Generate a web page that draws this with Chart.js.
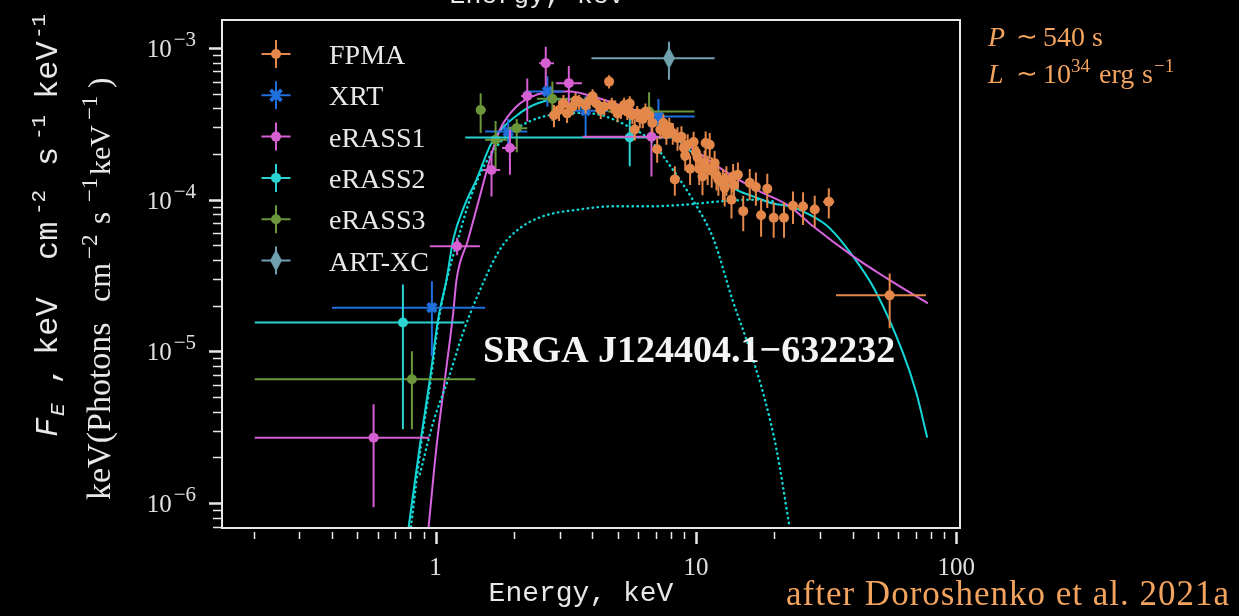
<!DOCTYPE html>
<html>
<head>
<meta charset="utf-8">
<script src="https://cdn.jsdelivr.net/npm/chart.js@4.4.1/dist/chart.umd.min.js"></script>
<style>
  html, body { margin: 0; background: #000; }
  canvas { display: block; }
</style>
</head>
<body>
<canvas id="spec" width="1239" height="616"></canvas>
<script>
// spectrum of SRGA J124404.1-632232
const SERIF = "'Liberation Serif', 'Times New Roman', serif";
const MONO = "'Liberation Mono', 'Courier New', monospace";
const FG = "#e8e8e8";
const ORANGE_TXT = "#f2a35e";

// FPMA
const fpmaE = [2.85, 2.98, 3.1, 3.2, 3.36, 3.45, 3.56, 3.77, 3.9, 4.01, 4.15, 4.31, 4.45, 4.64, 4.75, 4.9, 5.0, 5.15, 5.3, 5.45, 5.57, 5.7, 5.82, 5.95, 6.09, 6.25, 6.4, 6.63, 6.8, 7.1, 7.3, 7.5, 7.7, 7.9, 8.15, 8.3, 8.5, 8.8, 9.0, 9.1, 9.3, 9.5, 9.8, 10.0, 10.15, 10.3, 10.6, 10.8, 10.9, 11.1, 11.3, 11.5, 11.8, 12.0, 12.2, 12.7, 12.9, 13.1, 13.7, 13.9, 14.0, 14.5, 15.2, 16.1, 17.0, 17.8, 18.8, 19.9, 21.8, 23.6, 25.8, 28.6, 32.4, 55.5];
const fpmaF = [3.6e-4, 3.9e-4, 4.3e-4, 3.7e-4, 4.1e-4, 4.5e-4, 4.4e-4, 4.2e-4, 4.5e-4, 4.8e-4, 4.3e-4, 3.9e-4, 4.1e-4, 6.0e-4, 4.2e-4, 4.0e-4, 3.7e-4, 3.9e-4, 4.2e-4, 3.8e-4, 4.3e-4, 3.6e-4, 2.9e-4, 3.7e-4, 3.45e-4, 3.4e-4, 3.8e-4, 3.6e-4, 3.2e-4, 2.15e-4, 2.9e-4, 3.2e-4, 2.7e-4, 3.0e-4, 2.75e-4, 1.36e-4, 2.55e-4, 2.6e-4, 2.2e-4, 1.95e-4, 2.3e-4, 1.6e-4, 2.4e-4, 2.05e-4, 1.9e-4, 1.6e-4, 1.42e-4, 1.75e-4, 2.36e-4, 1.6e-4, 2.3e-4, 1.55e-4, 1.74e-4, 1.45e-4, 1.36e-4, 1.29e-4, 1.2e-4, 1.36e-4, 1.0e-4, 1.42e-4, 1.25e-4, 1.46e-4, 8.4e-5, 1.29e-4, 1.21e-4, 7.9e-5, 1.18e-4, 7.6e-5, 7.6e-5, 9.1e-5, 9.0e-5, 8.6e-5, 9.7e-5, 2.34e-5];
const fpmaDF = [6e-5, 6e-5, 6e-5, 5e-5, 5e-5, 5.5e-5, 5e-5, 5e-5, 5.5e-5, 5.5e-5, 5e-5, 5e-5, 5e-5, 6e-5, 5e-5, 5e-5, 4.5e-5, 5e-5, 5e-5, 4.5e-5, 5e-5, 4.5e-5, 4.5e-5, 4.5e-5, 5e-5, 4.5e-5, 5e-5, 5e-5, 4.5e-5, 4e-5, 4e-5, 4.5e-5, 4e-5, 4.5e-5, 4.5e-5, 3e-5, 4.5e-5, 4.5e-5, 4e-5, 4e-5, 4e-5, 3.5e-5, 4e-5, 4e-5, 3.5e-5, 3.5e-5, 3.5e-5, 3.5e-5, 4.5e-5, 3.5e-5, 4.5e-5, 3.5e-5, 3.5e-5, 3e-5, 3e-5, 3e-5, 3e-5, 3e-5, 2.5e-5, 3e-5, 3e-5, 3e-5, 2.2e-5, 3e-5, 3e-5, 2.2e-5, 3e-5, 2e-5, 2e-5, 2.2e-5, 2.2e-5, 2e-5, 2.2e-5, 9.2e-6];
const fpmaDE = [0.07, 0.07, 0.07, 0.07, 0.08, 0.08, 0.08, 0.08, 0.09, 0.09, 0.09, 0.1, 0.1, 0.1, 0.1, 0.1, 0.1, 0.11, 0.11, 0.11, 0.11, 0.12, 0.12, 0.12, 0.12, 0.13, 0.13, 0.13, 0.14, 0.14, 0.15, 0.15, 0.16, 0.16, 0.16, 0.17, 0.17, 0.18, 0.18, 0.18, 0.19, 0.19, 0.2, 0.2, 0.2, 0.21, 0.22, 0.22, 0.22, 0.23, 0.23, 0.24, 0.25, 0.25, 0.26, 0.28, 0.28, 0.3, 0.32, 0.33, 0.33, 0.36, 0.4, 0.45, 0.5, 0.55, 0.6, 0.7, 0.8, 0.9, 1.0, 1.2, 1.6, 21];

// XRT
const xrtE = [0.968, 1.90, 2.69, 3.77, 7.18];
const xrtF = [1.94e-5, 2.81e-4, 5.16e-4, 3.86e-4, 3.53e-4];
const xrtElo = [0.40, 1.55, 2.2, 3.1, 5.5];
const xrtEhi = [1.55, 2.25, 3.1, 4.6, 9.9];
const xrtFlo = [9.3e-6, 2.3e-4, 4.1e-4, 2.6e-4, 2.9e-4];
const xrtFhi = [2.9e-5, 3.4e-4, 6.5e-4, 4.8e-4, 4.6e-4];

// eRASS1
const e1E = [0.578, 1.21, 1.64, 1.93, 2.25, 2.65, 3.25, 6.75];
const e1F = [2.7e-6, 4.93e-5, 1.57e-4, 2.19e-4, 4.83e-4, 7.94e-4, 5.86e-4, 2.6e-4];
const e1Elo = [0.202, 0.95, 1.52, 1.8, 2.13, 2.5, 2.9, 3.67];
const e1Ehi = [0.945, 1.48, 1.77, 2.05, 2.4, 2.85, 3.65, 8.6];
const e1Flo = [9.4e-7, 4.3e-5, 1.05e-4, 1.46e-4, 3.27e-4, 5.56e-4, 4.1e-4, 1.42e-4];
const e1Fhi = [4.48e-6, 5.6e-5, 2.1e-4, 2.9e-4, 6.3e-4, 1.02e-3, 7.6e-4, 3.3e-4];

// eRASS2
const e2E = [0.749, 5.57];
const e2F = [1.55e-5, 2.57e-4];
const e2Elo = [0.202, 1.30];
const e2Ehi = [1.29, 8.56];
const e2Flo = [3.07e-6, 1.66e-4];
const e2Fhi = [2.76e-5, 3.4e-4];

// eRASS3
const e3E = [0.811, 1.49, 1.70, 2.05, 2.81, 6.61];
const e3F = [6.55e-6, 3.9e-4, 2.48e-4, 2.96e-4, 4.62e-4, 3.81e-4];
const e3Elo = [0.202, 1.43, 1.55, 1.9, 2.45, 4.6];
const e3Ehi = [1.42, 1.56, 1.88, 2.25, 3.3, 9.87];
const e3Flo = [3.07e-6, 2.75e-4, 1.6e-4, 2.05e-4, 3.3e-4, 3.2e-4];
const e3Fhi = [1.0e-5, 5.03e-4, 3.3e-4, 3.4e-4, 6.0e-4, 5.1e-4];

// ART-XC
const artE = [7.88];
const artF = [8.56e-4];
const artElo = [3.97];
const artEhi = [11.8];
const artFlo = [6.16e-4];
const artFhi = [1.1e-3];

// model curves
const totE = [0.788, 0.870, 0.951, 1.023, 1.102, 1.169, 1.296, 1.437, 1.641, 2.107, 2.59, 3.18, 4.03, 5.50, 6.65, 9.12, 10.0, 11.8, 13.7, 16.6, 19.8, 22.9, 27.3, 32.6, 40.1, 48.6, 62.4, 70.2, 77.4];
const totF = [6.95e-7, 2.38e-6, 6.55e-6, 1.63e-5, 2.98e-5, 5.46e-5, 9.27e-5, 1.36e-4, 2.36e-4, 3.72e-4, 4.44e-4, 4.6e-4, 4.44e-4, 3.91e-4, 3.36e-4, 2.25e-4, 1.93e-4, 1.53e-4, 1.21e-4, 1.05e-4, 9.42e-5, 9.04e-5, 7.96e-5, 6.51e-5, 4.24e-5, 2.56e-5, 9.8e-6, 5.35e-6, 2.7e-6];
const pwlE = [0.940, 1.009, 1.086, 1.169, 1.204, 1.334, 1.479, 1.616, 1.766, 2.046, 2.44, 2.83, 3.28, 4.03, 4.84, 6.65, 9.12, 12.7, 17.1, 22.9, 28.2, 40.1, 53.8, 77.8];
const pwlF = [6.95e-7, 2.38e-6, 6.55e-6, 1.8e-5, 2.98e-5, 5.46e-5, 1.05e-4, 1.83e-4, 2.89e-4, 4.11e-4, 4.91e-4, 5.16e-4, 5.16e-4, 4.78e-4, 4.33e-4, 3.53e-4, 2.36e-4, 1.57e-4, 1.16e-4, 9.04e-5, 6.67e-5, 4.24e-5, 3.05e-5, 2.07e-5];
const bbE = [0.804, 0.878, 0.959, 1.030, 1.105, 1.218, 1.354, 1.546, 1.766, 2.07, 2.58, 3.56, 4.29, 5.54, 6.65, 8.0, 9.72, 11.7, 13.8, 16.1, 18.4, 20.4, 22.9];
const bbF = [6.95e-7, 2.37e-6, 6.55e-6, 1.63e-5, 2.98e-5, 5.46e-5, 1.0e-4, 1.7e-4, 2.37e-4, 2.98e-4, 3.52e-4, 3.73e-4, 3.62e-4, 3.02e-4, 2.48e-4, 1.65e-4, 1.0e-4, 5.46e-5, 2.2e-5, 1.03e-5, 4.83e-6, 2.26e-6, 6.95e-7];
const compE = [0.870, 0.979, 1.118, 1.276, 1.44, 1.766, 2.075, 2.58, 3.54, 4.84, 6.65, 9.12, 12.5, 17.1, 20.2];
const compF = [1.55e-6, 3.4e-6, 6.55e-6, 1.33e-5, 2.26e-5, 4.69e-5, 6.35e-5, 7.76e-5, 8.6e-5, 9.04e-5, 9.04e-5, 9.27e-5, 9.75e-5, 1.0e-4, 9.71e-5];

// ticks
const xTickValues = [1, 10, 100];
const xTickLabels = ["1", "10", "100"];
const yTickValues = [1e-6, 1e-5, 1e-4, 1e-3];
const yTickExps = ["\u22126", "\u22125", "\u22124", "\u22123"];

const legendLabels = ["FPMA", "XRT", "eRASS1", "eRASS2", "eRASS3", "ART-XC"];

const colors = {
  fpma: "#e3884a",
  xrt: "#1f70dd",
  e1: "#d65fd2",
  e2: "#2bd2d2",
  e3: "#6b963a",
  art: "#6fa0ae",
  cyan: "#14d6d6",
  magenta: "#d864e0"
};

function pts(xs, ys) {
  return xs.map((v, i) => ({ x: v, y: ys[i] }));
}

// thin diamond used for ART-XC
function thinDiamond(color) {
  const c = document.createElement("canvas");
  c.width = 14; c.height = 24;
  const g = c.getContext("2d");
  g.fillStyle = color;
  g.beginPath();
  g.moveTo(7, 1); g.lineTo(13, 12); g.lineTo(7, 23); g.lineTo(1, 12);
  g.closePath(); g.fill();
  return c;
}
const artMarker = thinDiamond(colors.art);

function pointSet(label, xs, ys, err, color, style, r) {
  return {
    label: label,
    data: pts(xs, ys),
    err: err,
    borderColor: color,
    backgroundColor: color,
    pointStyle: style,
    pointRadius: r,
    pointBorderWidth: style === "crossRot" ? 4 : 0,
    showLine: false,
    order: 1
  };
}

function modelSet(xs, ys, color, dotted) {
  return {
    data: pts(xs, ys),
    borderColor: color,
    borderWidth: dotted ? 2.4 : 2,
    borderDash: dotted ? [0.5, 4.5] : [],
    borderCapStyle: dotted ? "round" : "butt",
    showLine: true,
    pointRadius: 0,
    cubicInterpolationMode: "monotone",
    fill: false,
    order: 5
  };
}

const datasets = [
  modelSet(compE, compF, colors.cyan, true),
  modelSet(bbE, bbF, colors.cyan, true),
  modelSet(pwlE, pwlF, colors.magenta, false),
  modelSet(totE, totF, colors.cyan, false),
  pointSet("FPMA", fpmaE, fpmaF, {
    xlo: fpmaE.map((v, i) => v - fpmaDE[i]), xhi: fpmaE.map((v, i) => v + fpmaDE[i]),
    ylo: fpmaF.map((v, i) => v - fpmaDF[i]), yhi: fpmaF.map((v, i) => v + fpmaDF[i])
  }, colors.fpma, "circle", 5),
  pointSet("eRASS1", e1E, e1F, { xlo: e1Elo, xhi: e1Ehi, ylo: e1Flo, yhi: e1Fhi }, colors.e1, "circle", 5),
  pointSet("eRASS2", e2E, e2F, { xlo: e2Elo, xhi: e2Ehi, ylo: e2Flo, yhi: e2Fhi }, colors.e2, "circle", 5),
  pointSet("eRASS3", e3E, e3F, { xlo: e3Elo, xhi: e3Ehi, ylo: e3Flo, yhi: e3Fhi }, colors.e3, "circle", 5),
  pointSet("XRT", xrtE, xrtF, { xlo: xrtElo, xhi: xrtEhi, ylo: xrtFlo, yhi: xrtFhi }, colors.xrt, "crossRot", 6),
  pointSet("ART-XC", artE, artF, { xlo: artElo, xhi: artEhi, ylo: artFlo, yhi: artFhi }, colors.art, artMarker, 7)
];

const bgPlugin = {
  id: "bg",
  beforeDraw(chart) {
    const ctx = chart.ctx;
    ctx.save();
    ctx.fillStyle = "#000";
    ctx.fillRect(0, 0, chart.width, chart.height);
    ctx.restore();
  }
};

// error bars under each point set
const errorBars = {
  id: "errorBars",
  beforeDatasetDraw(chart, args) {
    const ds = chart.data.datasets[args.index];
    if (!ds.err) return;
    const { ctx, chartArea: a } = chart;
    const x = chart.scales.x, y = chart.scales.y;
    ctx.save();
    ctx.beginPath();
    ctx.rect(a.left, a.top, a.right - a.left, a.bottom - a.top);
    ctx.clip();
    ctx.strokeStyle = ds.borderColor;
    ctx.lineWidth = 2;
    ds.data.forEach((p, i) => {
      const px = x.getPixelForValue(p.x);
      const py = y.getPixelForValue(p.y);
      ctx.beginPath();
      ctx.moveTo(x.getPixelForValue(ds.err.xlo[i]), py);
      ctx.lineTo(x.getPixelForValue(ds.err.xhi[i]), py);
      ctx.moveTo(px, y.getPixelForValue(ds.err.ylo[i]));
      ctx.lineTo(px, y.getPixelForValue(ds.err.yhi[i]));
      ctx.stroke();
    });
    ctx.restore();
  }
};

// pieces of text along a baseline; "at" places a piece at a fixed offset
function richText(ctx, parts, x, y) {
  let cx = x;
  parts.forEach(p => {
    ctx.font = p.font;
    if (p.at !== undefined) cx = x + p.at;
    cx += p.pre || 0;
    ctx.fillText(p.t, cx, y + (p.dy || 0));
    cx += ctx.measureText(p.t).width;
  });
  return cx;
}

function richWidth(ctx, parts) {
  let w = 0;
  parts.forEach(p => { ctx.font = p.font; w += (p.pre || 0) + ctx.measureText(p.t).width; });
  return w;
}

// frame, log ticks, tick labels
const axesPlugin = {
  id: "axesFrame",
  afterDatasetsDraw(chart) {
    const { ctx, chartArea: a } = chart;
    const x = chart.scales.x, y = chart.scales.y;
    ctx.save();
    ctx.strokeStyle = FG;
    ctx.fillStyle = FG;
    ctx.lineWidth = 2;
    ctx.strokeRect(a.left, a.top, a.right - a.left, a.bottom - a.top);

    // x ticks below the frame
    for (let d = 0.1; d <= 100; d *= 10) {
      for (let m = 1; m <= 9; m++) {
        const v = d * m;
        if (v < x.min || v > x.max) continue;
        const px = Math.round(x.getPixelForValue(v)) + 0.5;
        const major = m === 1;
        ctx.lineWidth = major ? 2.5 : 1.5;
        ctx.beginPath();
        ctx.moveTo(px, a.bottom + 4);
        ctx.lineTo(px, a.bottom + (major ? 16 : 11));
        ctx.stroke();
      }
    }
    // y ticks left of the frame
    for (let d = 1e-7; d <= 1e-3 * 1.001; d *= 10) {
      for (let m = 1; m <= 9; m++) {
        const v = d * m;
        if (v < y.min || v > y.max) continue;
        const py = Math.round(y.getPixelForValue(v)) + 0.5;
        const major = m === 1;
        ctx.lineWidth = major ? 2.5 : 1.5;
        ctx.beginPath();
        ctx.moveTo(a.left - 1, py);
        ctx.lineTo(a.left - (major ? 13 : 9), py);
        ctx.stroke();
      }
    }

    ctx.fillStyle = "#e0e0e0";
    ctx.textBaseline = "alphabetic";
    ctx.textAlign = "center";
    ctx.font = "25px " + SERIF;
    xTickValues.forEach((v, i) => {
      ctx.fillText(xTickLabels[i], x.getPixelForValue(v), 575);
    });
    ctx.textAlign = "left";
    yTickValues.forEach((v, i) => {
      const py = y.getPixelForValue(v);
      const parts = [
        { t: "10", font: "25px " + SERIF, dy: 9 },
        { t: yTickExps[i], font: "21px " + SERIF, dy: -2, pre: 2 }
      ];
      const w = richWidth(ctx, parts);
      richText(ctx, parts, 196 - w, py);
    });
    ctx.restore();
  }
};

function drawMarker(ctx, style, x, y, color) {
  ctx.fillStyle = color;
  ctx.strokeStyle = color;
  if (style === "circle") {
    ctx.beginPath();
    ctx.arc(x, y, 5, 0, Math.PI * 2);
    ctx.fill();
  } else if (style === "crossRot") {
    ctx.lineWidth = 4;
    ctx.beginPath();
    ctx.moveTo(x - 5.5, y - 5.5); ctx.lineTo(x + 5.5, y + 5.5);
    ctx.moveTo(x - 5.5, y + 5.5); ctx.lineTo(x + 5.5, y - 5.5);
    ctx.stroke();
  } else {
    ctx.drawImage(artMarker, x - 7, y - 12);
  }
}

// legend, labels and annotations
const textPlugin = {
  id: "texts",
  afterDraw(chart) {
    const ctx = chart.ctx;
    ctx.save();

    // legend
    const legendColors = [colors.fpma, colors.xrt, colors.e1, colors.e2, colors.e3, colors.art];
    const legendStyles = ["circle", "crossRot", "circle", "circle", "circle", "diamond"];
    legendLabels.forEach((lab, i) => {
      const ly = 54 + i * 41.3;
      const lx = 276;
      ctx.strokeStyle = legendColors[i];
      ctx.lineWidth = 2;
      ctx.beginPath();
      ctx.moveTo(lx - 14.5, ly); ctx.lineTo(lx + 14.5, ly);
      ctx.moveTo(lx, ly - 14); ctx.lineTo(lx, ly + 14);
      ctx.stroke();
      drawMarker(ctx, legendStyles[i], lx, ly, legendColors[i]);
      ctx.fillStyle = FG;
      ctx.font = "28px " + SERIF;
      ctx.textAlign = "left";
      ctx.fillText(lab, 329, ly + 10);
    });

    // source name
    ctx.fillStyle = "#f4f4f4";
    ctx.font = "bold 38px " + SERIF;
    ctx.fillText("SRGA J124404.1\u2212632232", 483, 362);

    // bottom x label and the clipped top one
    ctx.fillStyle = FG;
    ctx.font = "28px " + MONO;
    ctx.textAlign = "center";
    ctx.fillText("Energy, keV", 581, 601);
    ctx.font = "26.5px " + MONO;
    ctx.fillText("Energy, keV", 537, 3);

    // outer y label
    ctx.textAlign = "left";
    ctx.save();
    ctx.translate(57, 437);
    ctx.rotate(-Math.PI / 2);
    const m32 = "32px " + MONO, m21 = "21px " + MONO;
    richText(ctx, [
      { t: "F", font: "italic " + m32, at: 0 },
      { t: "E", font: "italic " + m21, dy: 7, at: 21 },
      { t: ",", font: m32, at: 52 },
      { t: "keV", font: m32, at: 82 },
      { t: "cm", font: m32, at: 177 },
      { t: "-2", font: m21, dy: -12, at: 222 },
      { t: "s", font: m32, at: 271 },
      { t: "-1", font: m21, dy: -12, at: 297 },
      { t: "keV", font: m32, at: 338 },
      { t: "-1", font: m21, dy: -12, at: 398 }
    ], 0, 0);
    ctx.restore();

    // inner y label
    ctx.save();
    ctx.translate(110, 500);
    ctx.rotate(-Math.PI / 2);
    richText(ctx, [
      { t: "keV(Photons", font: "34px " + SERIF, at: 0 },
      { t: "cm", font: "32px " + SERIF, at: 198 },
      { t: "\u22122", font: "23px " + SERIF, dy: -13, at: 241 },
      { t: "s", font: "31px " + SERIF, at: 276 },
      { t: "\u22121", font: "23px " + SERIF, dy: -13, at: 298 },
      { t: "keV", font: "30px " + SERIF, at: 325 },
      { t: "\u22121", font: "23px " + SERIF, dy: -13, at: 380 },
      { t: ")", font: "31px " + SERIF, at: 412 }
    ], 0, 0);
    ctx.restore();

    // period / luminosity note
    ctx.fillStyle = ORANGE_TXT;
    const s28 = "28px " + SERIF, s19 = "19px " + SERIF, s26 = "26px " + SERIF;
    richText(ctx, [
      { t: "P", font: "italic " + s28, at: 0 },
      { t: "\u223C", font: s26, dy: -1, at: 28 },
      { t: "540", font: s28, at: 55 },
      { t: "s", font: s28, at: 104 }
    ], 988, 46);
    richText(ctx, [
      { t: "L", font: "italic " + s28, at: 0 },
      { t: "\u223C", font: s26, dy: -1, at: 28 },
      { t: "10", font: s28, at: 55 },
      { t: "34", font: s19, dy: -11, at: 83 },
      { t: "erg", font: s28, at: 111 },
      { t: "s", font: s28, at: 154 },
      { t: "\u22121", font: s19, dy: -11, at: 166 }
    ], 988, 83);

    ctx.font = "35px " + SERIF;
    ctx.letterSpacing = "1px";
    ctx.fillText("after Doroshenko et al. 2021a", 786, 605);
    ctx.restore();
  }
};

const chart = new Chart(document.getElementById("spec"), {
  type: "scatter",
  data: { datasets: datasets },
  options: {
    responsive: false,
    animation: false,
    devicePixelRatio: 1,
    layout: { padding: { left: 222, top: 20, right: 279, bottom: 88 } },
    plugins: { legend: { display: false }, tooltip: { enabled: false } },
    scales: {
      x: { type: "logarithmic", min: 0.1512, max: 103.4, display: false },
      y: { type: "logarithmic", min: 6.85e-7, max: 1.528e-3, display: false }
    }
  },
  plugins: [bgPlugin, errorBars, axesPlugin, textPlugin]
});
</script>
</body>
</html>
